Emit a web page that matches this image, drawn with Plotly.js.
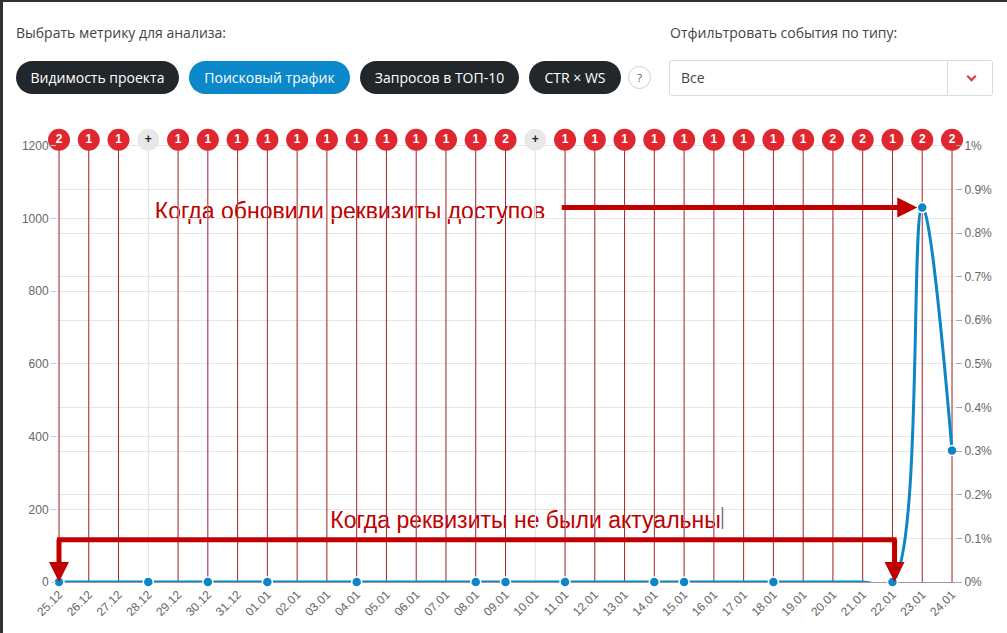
<!DOCTYPE html>
<html><head><meta charset="utf-8">
<script src="https://cdn.plot.ly/plotly-3.0.1.min.js"></script>
<style>
html,body{margin:0;padding:0;width:1007px;height:633px;overflow:hidden;background:#fff;font-family:'Open Sans',sans-serif;}
#chart{position:absolute;left:0;top:0;width:1007px;height:633px;}
.frameTop{position:absolute;left:0;top:0;width:1007px;height:2px;background:#2d3236;z-index:5}
.frameLeft{position:absolute;left:0;top:0;width:3px;height:633px;background:#2d3236;z-index:5}
.lbl{position:absolute;top:23px;font-size:14px;color:#444;line-height:20px;z-index:3;white-space:nowrap}
.btn{position:absolute;top:61px;height:33px;border-radius:17px;color:#fff;font-size:14px;line-height:33px;text-align:center;background:#22272b;z-index:3;white-space:nowrap}
.btn.active{background:#0a88c9}
.help{position:absolute;left:628px;top:66px;width:21px;height:21px;border:1px solid #d0d0d0;border-radius:50%;font-size:11px;color:#555;text-align:center;line-height:21px;z-index:3;background:#fff}
.sel{position:absolute;left:669px;top:60px;width:322px;height:34px;border:1px solid #dcdcdc;border-radius:3px;z-index:3;background:#fff}
.sel .v{position:absolute;left:11px;top:0;line-height:34px;font-size:14px;color:#444}
.sel .div{position:absolute;left:277px;top:0;width:1px;height:34px;background:#dcdcdc}
.sel .chev{position:absolute;left:298px;top:12px;width:5px;height:5px;border-right:2px solid #d9343a;border-bottom:2px solid #d9343a;transform:rotate(45deg)}
</style></head>
<body>
<div id="chart"></div>
<div class="frameTop"></div><div class="frameLeft"></div>
<div class="lbl" style="left:16px">Выбрать метрику для анализа:</div>
<div class="lbl" style="left:670px">Отфильтровать события по типу:</div>
<div class="btn" style="left:16px;width:163px">Видимость проекта</div>
<div class="btn active" style="left:189px;width:161px">Поисковый трафик</div>
<div class="btn" style="left:360px;width:159px">Запросов в ТОП-10</div>
<div class="btn" style="left:529px;width:92px">CTR × WS</div>
<div class="help">?</div>
<div class="sel"><span class="v">Все</span><span class="div"></span><span class="chev"></span></div>
<script>
// ---- data ----
const dates = ['25.12','26.12','27.12','28.12','29.12','30.12','31.12','01.01','02.01','03.01','04.01','05.01','06.01','07.01','08.01','09.01','10.01','11.01','12.01','13.01','14.01','15.01','16.01','17.01','18.01','19.01','20.01','21.01','22.01','23.01','24.01'];
const traffic = [0,0,0,0,0,0,0,0,0,0,0,0,0,0,0,0,0,0,0,0,0,0,0,0,0,0,0,0,0,1030,362];
const markedDates = ['25.12','28.12','30.12','01.01','04.01','08.01','09.01','11.01','14.01','15.01','18.01','22.01','23.01','24.01'];
const eventLabels = ['2','1','1','+','1','1','1','1','1','1','1','1','1','1','1','2','+','1','1','1','1','1','1','1','1','1','2','2','1','2','2'];
const leftTicks = [0,200,400,600,800,1000,1200];
const rightTicks = [0,0.001,0.002,0.003,0.004,0.005,0.006,0.007,0.008,0.009,0.01];
const noteTop = 'Когда обновили реквизиты доступов';
const noteBottom = 'Когда реквизиты не были актуальны';
const peakDate = '23.01';
const gapStart = '25.12', gapEnd = '22.01';

// ---- layout helpers ----
const W = 1007, H = 633, mL = 57, mR = 52, mB = 51;
const yMax = leftTicks[leftTicks.length - 1];
const pxPerUnit = 436 / yMax;
const eventY = yMax + 16.5;
const yTop = eventY + 16;
const ph = yTop * pxPerUnit;
const mT = H - mB - ph;
const pw = W - mL - mR;
const px = x => (x - mL) / pw;
const py = y => (H - mB - y) / ph;
const darkRed = '#c00000';
const blue = '#0b86c6';

// event lines
function eventLines(pred){
  const xs = [], ys = [];
  dates.forEach((d,i) => { if (pred(eventLabels[i])) { xs.push(d,d,null); ys.push(0,eventY,null); } });
  return {xs, ys};
}
const redL = eventLines(l => l !== '+');
const grayL = eventLines(l => l === '+');

const mx = [], my = [];
dates.forEach((d,i) => { if (markedDates.includes(d)) { mx.push(d); my.push(traffic[i]); } });

const traces = [
  {x: grayL.xs, y: grayL.ys, mode:'lines', line:{color:'#e2e2e2', width:1}, hoverinfo:'skip', showlegend:false},
  {x: redL.xs, y: redL.ys, mode:'lines', line:{color:'#a3262c', width:1}, hoverinfo:'skip', showlegend:false},
  {x: dates, y: traffic, mode:'lines', line:{color:blue, width:3, shape:'spline', smoothing:1}, cliponaxis:false, hoverinfo:'skip', showlegend:false},
  {x: mx, y: my, mode:'markers', marker:{color:blue, size:10, line:{color:'#fff', width:1.5}}, cliponaxis:false, hoverinfo:'skip', showlegend:false},
  {x: dates, y: dates.map(() => eventY), mode:'markers+text', text: eventLabels,
   marker:{size:22, color: eventLabels.map(l => l === '+' ? '#e8e8e8' : '#e0262f')},
   textfont:{color: eventLabels.map(l => l === '+' ? '#222' : '#fff'), size:12, family:'Liberation Sans, Arial', weight:'bold'},
   textposition:'middle center', cliponaxis:false, hoverinfo:'skip', showlegend:false},
  {x: [dates[0]], y: [0], yaxis:'y2', mode:'markers', marker:{opacity:0}, hoverinfo:'skip', showlegend:false}
];

const gapI0 = dates.indexOf(gapStart), gapI1 = dates.indexOf(gapEnd), peakI = dates.indexOf(peakDate);
const bracketY = 116;

const layout = {
  width: W, height: H,
  margin: {l: mL, r: mR, t: mT, b: mB, pad: 0},
  paper_bgcolor: '#fff', plot_bgcolor: 'rgba(0,0,0,0)',
  font: {family: 'Liberation Sans, Arial, sans-serif', color: '#666', size: 12},
  xaxis: {type:'category', categoryorder:'array', categoryarray: dates,
          range:[-2/29.77, 30 + 3/29.77], showgrid:true, gridcolor:'#f1f1f1',
          tickangle:-45, ticks:'', showline:true, linecolor:'#999', linewidth:1, layer:'below traces',
          tickfont:{size:12, color:'#666'}, automargin:false, fixedrange:true},
  yaxis: {range:[0, yTop], tickvals: leftTicks, showgrid:true, gridcolor:'#e6e6e6', zeroline:false,
          ticks:'outside', ticklen:5, tickcolor:'#ccc', tickfont:{size:12, color:'#666'}, automargin:false, fixedrange:true},
  yaxis2: {overlaying:'y', side:'right', range:[0, 0.01 * yTop / yMax], tickvals: rightTicks, tickformat:'.1~%',
           showgrid:true, gridcolor:'#e6e6e6', zeroline:false, ticks:'outside', ticklen:6, tickcolor:'#aaa',
           tickfont:{size:12, color:'#666'}, automargin:false, fixedrange:true},
  shapes: [
    {type:'rect', xref:'paper', yref:'paper', x0:px(130), x1:px(570), y0:py(225), y1:py(193), layer:'below',
     line:{width:0}, fillcolor:'rgba(0,0,0,0)',
     label:{text: noteTop, textposition:'middle center', font:{size:23, color:darkRed, family:'Liberation Sans, Arial'}}},
    {type:'rect', xref:'paper', yref:'paper', x0:px(310), x1:px(741), y0:py(534), y1:py(502), layer:'below',
     line:{width:0}, fillcolor:'rgba(0,0,0,0)',
     label:{text: noteBottom, textposition:'middle center', font:{size:23, color:darkRed, family:'Liberation Sans, Arial'}}},
    {type:'line', xref:'paper', yref:'paper', x0:px(722.5), x1:px(722.5), y0:py(507), y1:py(529), line:{color:'#777', width:1.5}, layer:'above'},
    {type:'line', xref:'x', yref:'y', x0:gapI0 - 0.08, x1:gapI1 + 0.14, y0:bracketY, y1:bracketY, line:{color:darkRed, width:5}, layer:'above'}
  ],
  annotations: [
    {x: peakI, y: traffic[peakI], text:'', showarrow:true, ax:-362, ay:0,
     arrowhead:2, arrowwidth:5, arrowsize:0.8, arrowcolor:darkRed, standoff:5},
    {x: gapI0, y: 0, text:'', showarrow:true, ax:0, ay:-44, arrowhead:2, arrowwidth:5, arrowsize:0.8, arrowcolor:darkRed, standoff:0},
    {x: gapI1 + 0.07, y: 0, text:'', showarrow:true, ax:0, ay:-44, arrowhead:2, arrowwidth:5, arrowsize:0.8, arrowcolor:darkRed, standoff:0}
  ]
};

Plotly.newPlot('chart', traces, layout, {displayModeBar:false, staticPlot:true});
</script>
</body></html>
